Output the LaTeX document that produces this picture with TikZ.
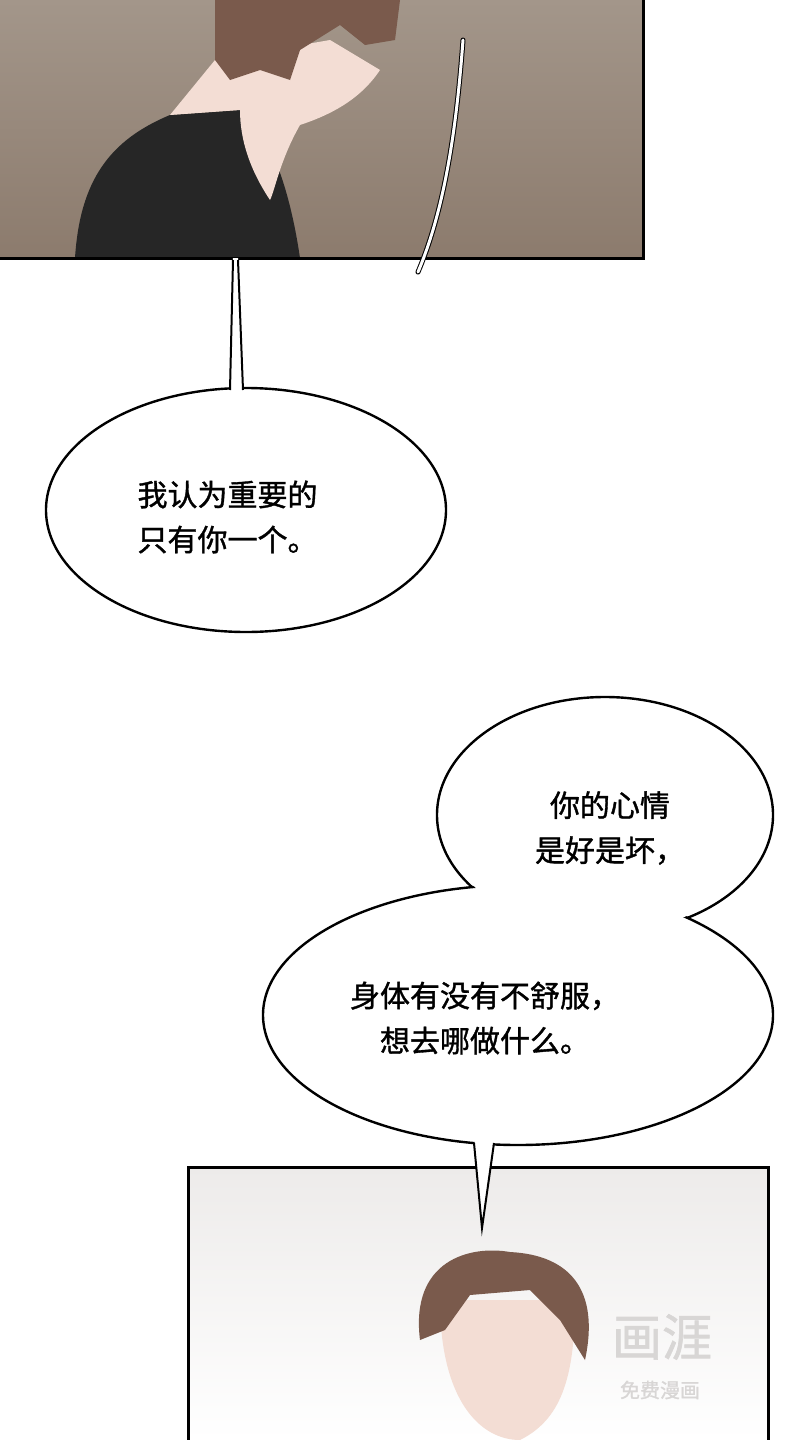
\documentclass[tikz,border=0pt]{standalone}
\usepackage{fontspec}
\newfontfamily\cjk[FakeBold=1.2]{Noto Sans CJK SC}
\definecolor{wallbrown}{HTML}{A3968A}
\definecolor{wallshade}{HTML}{8C7B6D}
\definecolor{hairbrown}{HTML}{7A5A4C}
\definecolor{skintone}{HTML}{F3DDD4}
\definecolor{panelgrey}{HTML}{EDEBEA}
\definecolor{markgrey}{HTML}{D8D6D5}
\begin{document}
\begin{tikzpicture}[x=1pt,y=-1pt,
    panelframe/.style={draw=black,line width=3pt},
    bubble/.style={draw=black,line width=2.4pt,fill=white},
    speech/.style={font=\cjk\fontsize{30}{45}\selectfont,align=left}]
  \useasboundingbox (0,0) rectangle (790,1440);
  \fill[white] (0,0) rectangle (790,1440);

  % top panel
  \shade[top color=wallbrown,bottom color=wallshade] (0,0) rectangle (643,258);
  \fill[black!85] (75,258) .. controls (80,180) and (110,140) .. (170,115)
      -- (240,110) .. controls (270,130) and (290,190) .. (300,258) -- cycle;
  \fill[skintone] (170,115) -- (215,60) -- (330,40) -- (380,70)
      .. controls (360,100) and (330,115) .. (300,125)
      .. controls (280,160) and (275,190) .. (270,200)
      .. controls (250,170) and (240,140) .. (240,110) -- cycle;
  \fill[hairbrown] (215,0) -- (400,0) -- (395,40) -- (365,45) -- (340,25)
      -- (300,50) -- (290,80) -- (260,70) -- (230,80) -- (215,60) -- cycle;
  \draw[panelframe] (643,0) -- (643,258) -- (0,258);
  \draw[draw=black,line width=5pt,line cap=round] (463,40) .. controls (455,150) and (440,220) .. (418,272);
  \draw[draw=white,line width=3pt,line cap=round] (463,40) .. controls (455,150) and (440,220) .. (418,272);

  % first bubble
  \draw[bubble] (246,510) ellipse [x radius=200,y radius=122];
  \fill[white] (230,392) -- (233,258) -- (238,258) -- (243,392) -- cycle;
  \draw[black,line width=2pt] (230,390) -- (233,260) (238,260) -- (243,390);
  \node[speech,anchor=west] (lineone) at (134,517) {我认为重要的\\只有你一个。};

  % bottom panel
  \shade[top color=panelgrey,bottom color=white] (188,1167) rectangle (768,1440);
  \fill[skintone] (440,1300) .. controls (440,1400) and (480,1440) .. (520,1440)
      .. controls (560,1420) and (575,1380) .. (575,1300) -- cycle;
  \fill[hairbrown] (420,1340) .. controls (410,1260) and (470,1245) .. (510,1252)
      .. controls (570,1255) and (600,1290) .. (585,1360)
      -- (560,1320) -- (530,1290) -- (470,1295) -- (445,1330) -- cycle;
  \draw[panelframe] (188,1440) -- (188,1167) -- (768,1167) -- (768,1440);
  \node[font=\cjk\fontsize{50}{50}\selectfont,text=markgrey] (markbig) at (662,1337) {画涯};
  \node[font=\cjk\fontsize{20}{20}\selectfont,text=markgrey] (marksmall) at (660,1390) {免费漫画};

  % second bubble
  \draw[bubble] (605,815) ellipse [x radius=168,y radius=118];
  \draw[bubble] (518,1015) ellipse [x radius=255,y radius=130];
  \fill[white] (605,815) ellipse [x radius=166,y radius=116];
  \fill[white] (474,1135) -- (482,1228) -- (494,1135) -- cycle;
  \draw[black,line width=2pt] (474,1143) -- (482,1228) -- (494,1143);
  \node[speech,align=center] (linetwo) at (610,828) {你的心情\\是好是坏，};
  \node[speech,align=center] (linethree) at (485,1018) {身体有没有不舒服，\\想去哪做什么。};
\end{tikzpicture}
\end{document}
